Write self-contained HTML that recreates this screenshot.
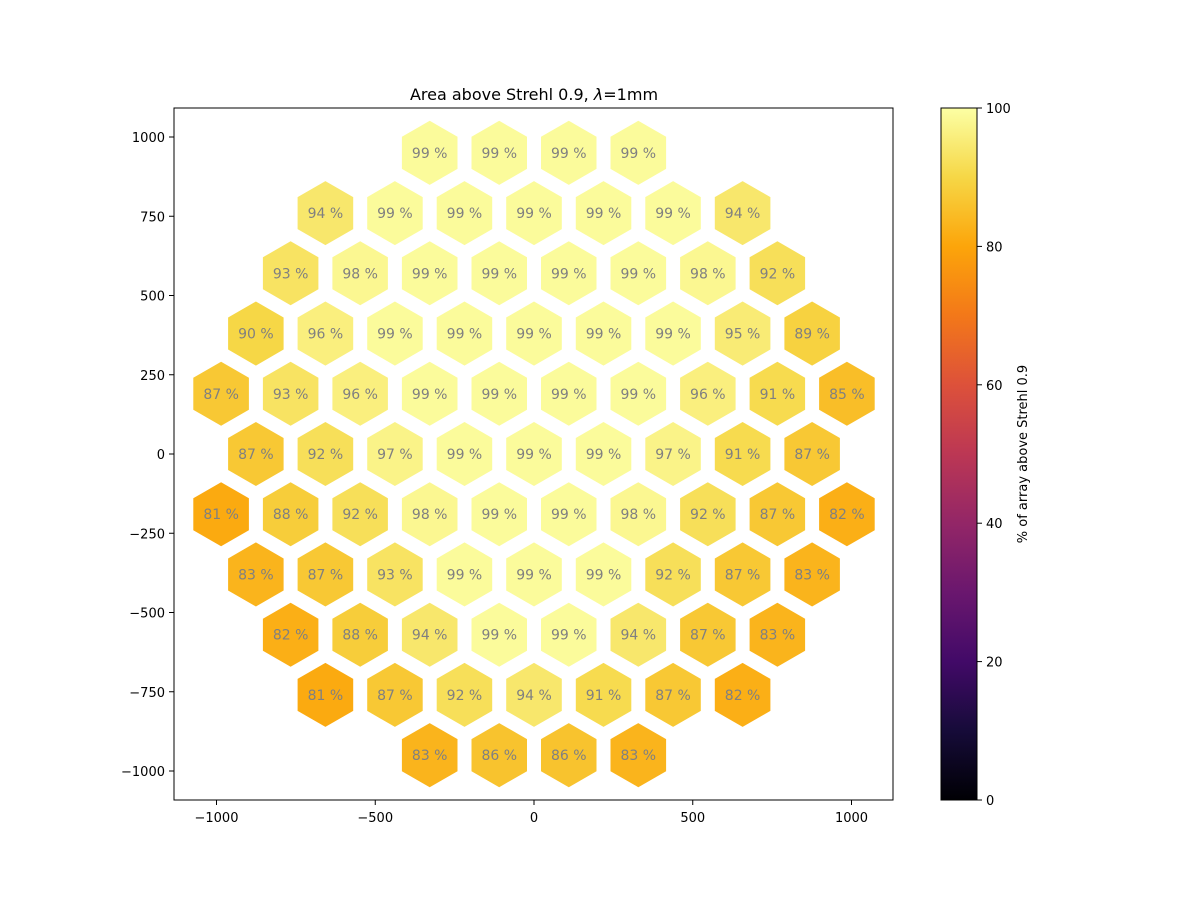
<!DOCTYPE html>
<html><head><meta charset="utf-8"><style>
body{margin:0;background:#fff;}
svg text{font-family:"DejaVu Sans","Liberation Sans",sans-serif;}
</style></head><body>
<svg id="chart" width="1200" height="900" xmlns="http://www.w3.org/2000/svg">
<defs>
<linearGradient id="inferno" x1="0" y1="1" x2="0" y2="0">
<stop offset="0" stop-color="#000004"/><stop offset="0.1" stop-color="#160b39"/><stop offset="0.2" stop-color="#420a68"/><stop offset="0.3" stop-color="#6a176e"/><stop offset="0.4" stop-color="#932667"/><stop offset="0.5" stop-color="#bc3754"/><stop offset="0.6" stop-color="#dd513a"/><stop offset="0.7" stop-color="#f37819"/><stop offset="0.8" stop-color="#fca50a"/><stop offset="0.9" stop-color="#f6d746"/><stop offset="1" stop-color="#fcffa4"/>
</linearGradient>
</defs>
<g id="plot"></g>
</svg>
<script>
const rowValues = [
 [99,99,99,99],
 [94,99,99,99,99,99,94],
 [93,98,99,99,99,99,98,92],
 [90,96,99,99,99,99,99,95,89],
 [87,93,96,99,99,99,99,96,91,85],
 [87,92,97,99,99,99,97,91,87],
 [81,88,92,98,99,99,98,92,87,82],
 [83,87,93,99,99,99,92,87,83],
 [82,88,94,99,99,94,87,83],
 [81,87,92,94,91,87,82],
 [83,86,86,83]
];
const rowY = [950,760,570,380,190,0,-190,-380,-570,-760,-950];
const xTicks = [-1000,-500,0,500,1000];
const yTicks = [1000,750,500,250,0,-250,-500,-750,-1000];
const cTicks = [0,20,40,60,80,100];
const dx = 219, hexR = 101;

const NS="http://www.w3.org/2000/svg";
const g=document.getElementById('plot');
const X=v=>534+v*0.3175, Y=v=>454-v*0.317;
const stops=[[0,0,4],[22,11,57],[66,10,104],[106,23,110],[147,38,103],[188,55,84],[221,81,58],[243,120,25],[252,165,10],[246,215,70],[252,255,164]];
function cmap(v){let t=Math.max(0,Math.min(1,v/100))*10;let i=Math.min(9,Math.floor(t));let f=t-i;
 const c=stops[i].map((a,k)=>Math.round(a+(stops[i+1][k]-a)*f));return `rgb(${c.join(',')})`;}
function el(tag,attrs,txt){const e=document.createElementNS(NS,tag);for(const k in attrs)e.setAttribute(k,attrs[k]);if(txt!==undefined)e.textContent=txt;g.appendChild(e);return e;}

const ax=el('rect',{x:174,y:108,width:719,height:692,fill:'none',stroke:'#000','stroke-width':1});



rowValues.forEach((row,r)=>{
 const n=row.length;
 row.forEach((v,i)=>{
  const cx=(i-(n-1)/2)*dx, cy=rowY[r];
  let pts=[];
  for(let k=0;k<6;k++){const a=Math.PI/6+k*Math.PI/3;pts.push(X(cx+hexR*Math.cos(a)).toFixed(1)+','+Y(cy+hexR*Math.sin(a)).toFixed(1));}
  const h=el('polygon',{points:pts.join(' '),fill:cmap(v)});
  
  
  const t=el('text',{x:X(cx),y:Y(cy)+5,'text-anchor':'middle','font-size':14,fill:'#808080'},v+' %');
  
  
 });
});

xTicks.forEach(v=>{
 el('line',{x1:X(v),x2:X(v),y1:800,y2:805,stroke:'#000'});
 const t=el('text',{x:X(v),y:822,'text-anchor':'middle','font-size':13},(v<0?'\u2212'+(-v):v));
 
 
});
yTicks.forEach(v=>{
 el('line',{x1:169,x2:174,y1:Y(v),y2:Y(v),stroke:'#000'});
 const t=el('text',{x:165,y:Y(v)+5,'text-anchor':'end','font-size':13},(v<0?'\u2212'+(-v):v));
 
 
});

const cb=el('rect',{x:941,y:108,width:36,height:692,fill:'url(#inferno)',stroke:'#000'});


cTicks.forEach(v=>{
 const y=800-v*6.92;
 el('line',{x1:977,x2:982,y1:y,y2:y,stroke:'#000'});
 const t=el('text',{x:986,y:y+5,'font-size':13},v);
 
 
});
const cl=el('text',{x:1027,y:454,'text-anchor':'middle','font-size':13,transform:'rotate(-90 1027 454)'},'% of array above Strehl 0.9');



const title=el('text',{x:534,y:100,'text-anchor':'middle','font-size':16});


title.innerHTML='Area above Strehl 0.9, <tspan font-style="italic">λ</tspan>=1mm';
</script>
</body></html>
